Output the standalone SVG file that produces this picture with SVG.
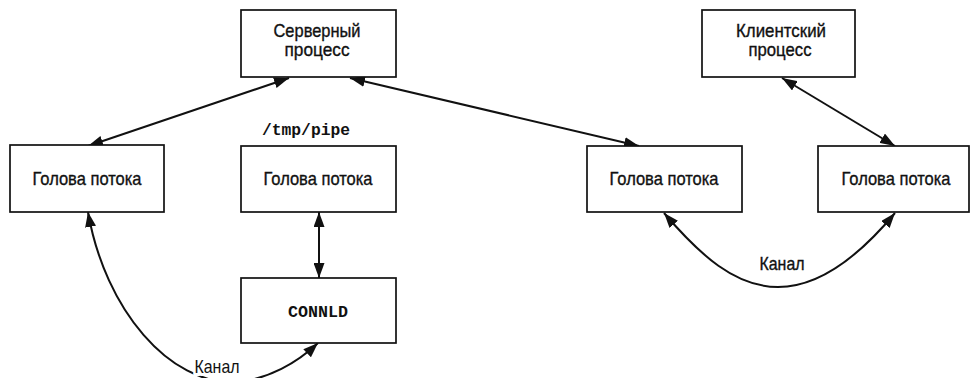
<svg xmlns="http://www.w3.org/2000/svg" width="970" height="378" viewBox="0 0 970 378">
<style>
.box{fill:#fff;stroke:#111;stroke-width:1.7}
.lbl{font-family:"Liberation Sans Narrow","Liberation Sans",Arial,sans-serif;font-size:18.5px;fill:#111;stroke:#111;stroke-width:0.35;text-anchor:middle}
.mono{font-family:"Liberation Mono","DejaVu Sans Mono",monospace;font-weight:bold;font-size:16px;fill:#111}
.con{fill:none;stroke:#111;stroke-width:2}
.halo{stroke:#fff;stroke-width:6;paint-order:stroke}
</style>
<defs>
<marker id="ah" viewBox="0 0 15 11" refX="15" refY="5.5" markerWidth="15" markerHeight="11" orient="auto-start-reverse" markerUnits="userSpaceOnUse">
<path d="M0,0 L15,5.5 L0,11 z" fill="#111"/>
</marker>
</defs>
<g id="connectors">
<line class="con" x1="88" y1="146" x2="289" y2="78" marker-start="url(#ah)" marker-end="url(#ah)"/>
<line class="con" x1="350" y1="78" x2="639" y2="146" marker-start="url(#ah)" marker-end="url(#ah)"/>
<line class="con" x1="782" y1="78" x2="895" y2="146" marker-start="url(#ah)" marker-end="url(#ah)"/>
<line class="con" x1="319" y1="212" x2="319" y2="278" marker-start="url(#ah)" marker-end="url(#ah)"/>
<path class="con" d="M88,212 C105,310 170,385 235,382 C268,380 298,362 318,343" marker-start="url(#ah)" marker-end="url(#ah)"/>
<path class="con" d="M664,213 C700,255 735,287 778,287 C820,287 860,255 895,213" marker-start="url(#ah)" marker-end="url(#ah)"/>
<text class="lbl halo" x="217" y="373" font-size="17.5" textLength="45" lengthAdjust="spacingAndGlyphs">Канал</text>
<text class="lbl" x="782" y="270" font-size="17.5" textLength="45" lengthAdjust="spacingAndGlyphs">Канал</text>
</g>
<g id="server">
<rect class="box" x="241" y="10" width="155" height="67"/>
<text class="lbl" x="317" y="37" textLength="87" lengthAdjust="spacingAndGlyphs">Серверный</text>
<text class="lbl" x="317" y="56" textLength="65" lengthAdjust="spacingAndGlyphs">процесс</text>
</g>
<g id="client">
<rect class="box" x="702" y="10" width="153" height="67"/>
<text class="lbl" x="781" y="37" textLength="90" lengthAdjust="spacingAndGlyphs">Клиентский</text>
<text class="lbl" x="780" y="56" textLength="63" lengthAdjust="spacingAndGlyphs">процесс</text>
</g>
<g id="head1">
<rect class="box" x="10" y="145" width="154" height="67"/>
<text class="lbl" x="87" y="185" textLength="109" lengthAdjust="spacingAndGlyphs">Голова потока</text>
</g>
<g id="head2">
<text class="mono" x="262" y="135" textLength="88" lengthAdjust="spacingAndGlyphs">/tmp/pipe</text>
<rect class="box" x="241" y="146" width="155" height="66"/>
<text class="lbl" x="318" y="185" textLength="109" lengthAdjust="spacingAndGlyphs">Голова потока</text>
</g>
<g id="head3">
<rect class="box" x="587" y="146" width="155" height="66"/>
<text class="lbl" x="664" y="185" textLength="109" lengthAdjust="spacingAndGlyphs">Голова потока</text>
</g>
<g id="head4">
<rect class="box" x="818" y="146" width="151" height="66"/>
<text class="lbl" x="896" y="185" textLength="109" lengthAdjust="spacingAndGlyphs">Голова потока</text>
</g>
<g id="connld">
<rect class="box" x="241" y="278" width="155" height="65"/>
<text class="mono" x="318" y="317" font-size="17" text-anchor="middle" textLength="60" lengthAdjust="spacingAndGlyphs">CONNLD</text>
</g>
</svg>
